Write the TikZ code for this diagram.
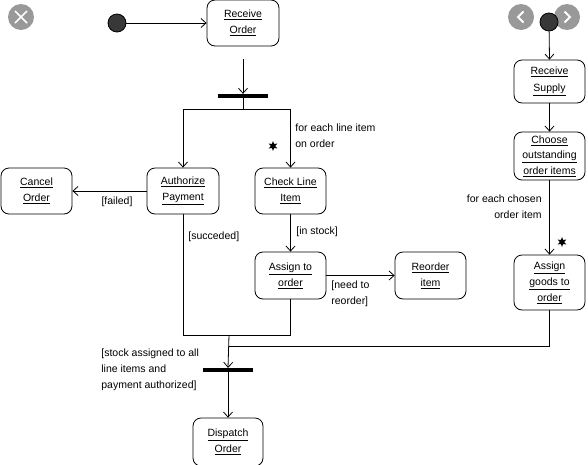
\documentclass[tikz,border=0pt]{standalone}
\usepackage{fontspec}
\setmainfont{Liberation Sans}
\usetikzlibrary{arrows.meta,shapes.geometric}
\newcommand\ulx[1]{\underline{#1}}
\begin{document}
\begin{tikzpicture}[x=1pt,y=-1pt,
  line width=0.8pt,
  every node/.style={font=\fontsize{10.5}{16}\selectfont},
  act/.style={draw, rounded corners=8pt, minimum width=72pt, minimum height=46pt, align=center, inner sep=0pt},
  arr/.style={-{Straight Barb[length=5pt,width=9pt]}},
  bar/.style={fill=black, draw=none, minimum width=50pt, minimum height=3.5pt, inner sep=0pt},
  initial/.style={circle, fill=black!78, draw=black, minimum size=18pt, inner sep=0pt},
  starmark/.style={star, star points=6, star point ratio=2.2, fill=black, draw=none, minimum size=10pt, inner sep=0pt},
  lbl/.style={inner sep=0pt, align=left},
  btn/.style={circle, fill=black!40, draw=none, minimum size=26pt, inner sep=0pt}
]
\useasboundingbox (0,0) rectangle (588,464);
% viewer buttons
\node[btn] (bx) at (21,17) {};
\draw[white, line width=1.6pt] ([shift={(-6pt,-6pt)}]bx.center) -- ([shift={(6pt,6pt)}]bx.center);
\draw[white, line width=1.6pt] ([shift={(-6pt,6pt)}]bx.center) -- ([shift={(6pt,-6pt)}]bx.center);
\node[btn] (bl) at (521,17) {};
\draw[white, line width=2pt] ([shift={(2.5pt,5.5pt)}]bl.center) -- ([shift={(-3pt,0pt)}]bl.center) -- ([shift={(2.5pt,-5.5pt)}]bl.center);
\node[btn] (br) at (567,17) {};
\draw[white, line width=2pt] ([shift={(-2.5pt,5.5pt)}]br.center) -- ([shift={(3pt,0pt)}]br.center) -- ([shift={(-2.5pt,-5.5pt)}]br.center);

% nodes
\node[initial] (i1) at (117,23) {};
\node[act] (ro) at (243,23) {\ulx{Receive}\\\ulx{Order}};
\node[bar] (f1) at (243,96) {};
\node[act] (ap) at (183,191) {\ulx{Authorize}\\\ulx{Payment}};
\node[act, minimum width=71pt] (co) at (36.5,191) {\ulx{Cancel}\\\ulx{Order}};
\node[act, minimum width=71pt] (cl) at (290.5,191) {\ulx{Check Line}\\\ulx{Item}};
\node[act, minimum width=71pt, minimum height=47pt] (as) at (290.5,275.5) {\ulx{Assign to}\\\ulx{order}};
\node[act, minimum width=71pt, minimum height=47pt] (re) at (430.5,275.5) {\ulx{Reorder}\\\ulx{item}};
\node[bar] (f2) at (228,370) {};
\node[act, minimum width=70pt, minimum height=48pt] (dp) at (228,442) {\ulx{Dispatch}\\\ulx{Order}};

\node[initial] (i2) at (549,22) {};
\node[act, minimum width=71pt, minimum height=43pt, font=\fontsize{10.5}{17}\selectfont] (rs) at (549.5,81.5) {\ulx{Receive}\\\ulx{Supply}};
\node[act, minimum width=71pt, minimum height=48pt, font=\fontsize{10.5}{15.5}\selectfont] (ch) at (549.5,156) {\ulx{Choose}\\\ulx{outstanding}\\\ulx{order items}};
\node[act, minimum width=71pt, minimum height=55pt] (ag) at (549.5,282.5) {\raisebox{-3pt}{\ulx{Assign}}\\\raisebox{-3pt}{\ulx{goods to}}\\\raisebox{-3pt}{\ulx{order}}};

\coordinate (m1) at (229,335);
\coordinate (m2) at (229,346);

% labels
\node[lbl, anchor=north west] (t1) at (295,123) {for each line item\\on order};
\node[starmark] (s1) at (273,146) {};
\node[lbl] (t2) at (117,202) {[failed]};
\node[lbl, anchor=west] (t3) at (188,237) {[succeded]};
\node[lbl, anchor=west] (t4) at (296,232) {[in stock]};
\node[lbl, anchor=north west] (t5) at (331,280) {[need to\\reorder]};
\node[lbl, anchor=north west] (t6) at (101,348) {[stock assigned to all\\line items and\\payment authorized]};
\node[lbl, anchor=north east, align=right] (t7) at (542,194) {for each chosen\\order item};
\node[starmark] (s2) at (562,242) {};

% connectors
\draw[arr] (i1) -- (ro);
\draw[arr] ([yshift=-13pt]ro.south) -- (f1.north);
\draw[arr] (f1.south) -- ++(0,11) -| (ap.north);
\draw[arr] (f1.south) -- ++(0,11) -| (cl.north);
\draw[arr] (ap.west) -- (co.east);
\draw[arr] (cl.south) -- (as.north);
\draw[arr] (as.east) -- (re.west);
\draw (ap.south) |- (as.south |- m1) -- (as.south);
\draw[arr] (m1) -- (f2.north);
\draw[arr] (f2.south) -- (dp.north);
\draw[arr] (i2) -- (rs.north);
\draw[arr] (rs.south) -- (ch.north);
\draw[arr] (ch.south) -- (ag.north);
\draw (ag.south) |- (m2);
\end{tikzpicture}
\end{document}
